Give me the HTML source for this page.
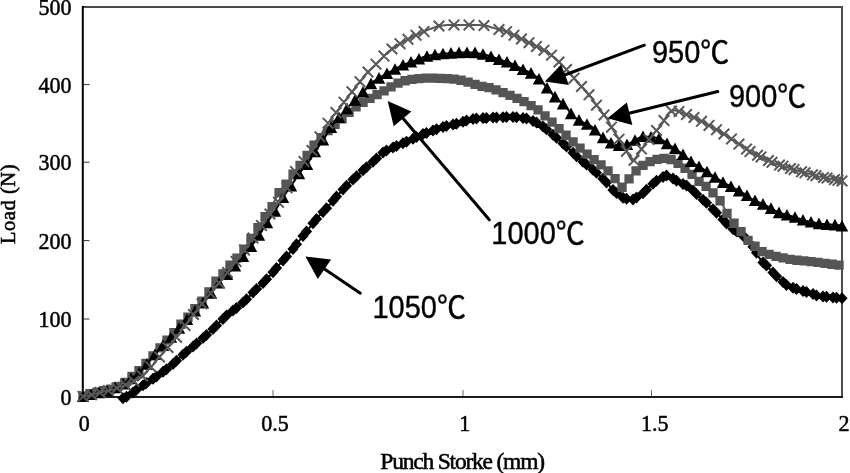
<!DOCTYPE html>
<html><head><meta charset="utf-8"><style>
html,body{margin:0;padding:0;background:#fff;}
body{width:850px;height:473px;overflow:hidden;}
svg{display:block;}
.ax{font-family:"Liberation Serif",serif;font-size:22px;fill:#000;stroke:#000;stroke-width:0.55px;letter-spacing:0px;}
.nm{font-size:23.7px;stroke-width:0.5px;}
.lb{font-family:"Liberation Sans","Noto Sans CJK JP",sans-serif;font-size:31px;fill:#000;stroke:#000;stroke-width:0.4px;}
</style></head><body>
<svg width="850" height="473" viewBox="0 0 850 473">

<rect x="0" y="0" width="850" height="473" fill="#fff"/>

<line x1="82" y1="7" x2="843" y2="7" stroke="#4a4a4a" stroke-width="2"/>
<line x1="842" y1="6" x2="842" y2="397.5" stroke="#4d4d4d" stroke-width="2"/>
<line x1="82.8" y1="6" x2="82.8" y2="397.9" stroke="#000" stroke-width="2"/>
<line x1="82" y1="396.9" x2="843" y2="396.9" stroke="#1a1a1a" stroke-width="2"/>
<line x1="83" y1="84.6" x2="89.5" y2="84.6" stroke="#333" stroke-width="1"/>
<line x1="83" y1="162.2" x2="89.5" y2="162.2" stroke="#333" stroke-width="1"/>
<line x1="83" y1="240.6" x2="89.5" y2="240.6" stroke="#333" stroke-width="1"/>
<line x1="83" y1="319" x2="89.5" y2="319" stroke="#333" stroke-width="1"/>
<line x1="273" y1="390" x2="273" y2="396" stroke="#666" stroke-width="1"/>
<line x1="463" y1="390" x2="463" y2="396" stroke="#666" stroke-width="1"/>
<line x1="651.5" y1="390" x2="651.5" y2="396" stroke="#666" stroke-width="1"/>
<g>
<polyline points="123,398.3 125,397.5 127,396.5 129,395.5 131,394.2 133,392.6 135,391 137,389.4 139,387.9 141,386.5 143,385.2 145,383.9 147,382.7 149,381.4 151,380.1 153,378.8 155,377.5 157,376.1 159,374.7 161,373.2 163,371.8 165,370.4 167,369 169,367.5 171,365.7 173,363.9 175,362 177,360.2 179,358.3 181,356.5 183,354.8 185,353.1 187,351.4 189,349.7 191,348 193,346.4 195,344.7 197,343.1 199,341.4 201,339.7 203,338 205,336.3 207,334.6 209,332.8 211,330.9 213,328.9 215,326.9 217,324.9 219,322.9 221,321 223,319 225,317 227,315.1 229,313.5 231,312 233,310.5 235,309 237,307.5 239,305.9 241,304.1 243,302.4 245,300.7 247,298.8 249,296.7 251,294.6 253,292.4 255,290.4 257,288.5 259,286.6 261,284.8 263,282.9 265,280.8 267,278.7 269,276.6 271,274.5 273,272.3 275,269.9 277,267.5 279,265.1 281,262.7 283,260.4 285,258.1 287,255.9 289,253.6 291,251.3 293,248.9 295,246.3 297,243.7 299,241.1 301,238.5 303,235.9 305,233.3 307,230.8 309,228.3 311,225.8 313,223.3 315,220.8 317,218.3 319,216 321,213.9 323,211.9 325,209.8 327,207.7 329,205.6 331,203.2 333,200.7 335,198.2 337,196 339,193.8 341,191.7 343,189.6 345,187.4 347,185.3 349,183.3 351,181.4 353,179.5 355,177.7 357,175.9 359,174 361,172.2 363,170.3 365,168.6 367,166.9 369,165.2 371,163.5 373,161.8 375,160 377,158.1 379,156.2 381,154.4 383,152.6 385,151.3 387,150.4 389,149.5 391,148.5 393,147.6 395,146.7 397,145.8 399,145 401,144.1 403,143.3 405,142.4 407,141.6 409,140.6 411,139.7 413,138.7 415,137.7 417,136.8 419,135.8 421,134.9 423,134.1 425,133.4 427,132.7 429,131.9 431,131.2 433,130.4 435,129.7 437,129.1 439,128.4 441,127.7 443,127 445,126.4 447,125.8 449,125.4 451,125 453,124.5 455,124.1 457,123.7 459,123.1 461,122.5 463,121.8 465,121.1 467,120.5 469,119.8 471,119.2 473,118.9 475,118.7 477,118.6 479,118.4 481,118.3 483,118.1 485,118 487,117.9 489,117.8 491,117.7 493,117.6 495,117.5 497,117.4 499,117.3 501,117.2 503,117.2 505,117.1 507,117 509,116.9 511,116.9 513,117 515,117.2 517,117.4 519,117.5 521,117.7 523,117.9 525,118.1 527,118.6 529,119.4 531,120.2 533,121 535,121.8 537,122.6 539,123.6 541,125.1 543,126.6 545,128.1 547,129.7 549,131.3 551,133 553,134.7 555,136.4 557,138.1 559,139.9 561,141.6 563,143.4 565,145.2 567,146.9 569,148.7 571,150.7 573,152.7 575,154.7 577,156.7 579,158.6 581,160.2 583,161.8 585,163.3 587,164.8 589,166.4 591,168.1 593,169.8 595,171.4 597,173.2 599,175 601,176.9 603,178.7 605,180.7 607,183 609,185.3 611,187.6 613,189.9 615,191.7 617,193.4 619,195.1 621,196.7 623,197.7 625,198.3 627,198.9 629,199.4 631,199.9 633,199.4 635,198.4 637,197.2 639,196.1 641,194.9 643,193.3 645,191.3 647,189.3 649,187.3 651,185.5 653,183.8 655,182.1 657,180.4 659,179 661,178 663,177 665,176.1 667,175.4 669,176 671,177.2 673,178.5 675,179.8 677,181.1 679,182.3 681,183.3 683,184.1 685,185 687,185.8 689,186.9 691,188.6 693,190.6 695,192.6 697,194.6 699,196.4 701,198 703,199.7 705,201.4 707,203.2 709,205.2 711,207.2 713,209.2 715,211.2 717,213.2 719,215.3 721,217.5 723,219.6 725,221.8 727,223.9 729,226 731,227.5 733,228.9 735,230.2 737,231.6 739,232.9 741,234.3 743,235.7 745,237.7 747,239.9 749,242.1 751,244.3 753,246.7 755,249.9 757,253.6 759,257.2 761,260.3 763,262.4 765,264.2 767,266.1 769,268.1 771,270.2 773,272.4 775,274.6 777,276.8 779,278.7 781,280.4 783,282.1 785,283.8 787,285.2 789,286.1 791,286.9 793,287.7 795,288.5 797,289.3 799,290 801,290.6 803,291.1 805,291.7 807,292.2 809,292.7 811,293.4 813,294.1 815,294.9 817,295.6 819,296.1 821,296.3 823,296.5 825,296.7 827,296.9 829,297.1 831,297.3 833,297.5 835,297.7 837,297.9 839,298.1 841,298.2" fill="none" stroke="#000" stroke-width="2"/>
<path d="M123 392.3L128.6 398.3L123 404.3L117.4 398.3ZM126.5 390.8L132.1 396.8L126.5 402.8L120.9 396.8ZM133 386.6L138.6 392.6L133 398.6L127.4 392.6ZM136.5 383.8L142.1 389.8L136.5 395.8L130.9 389.8ZM143 379.2L148.6 385.2L143 391.2L137.4 385.2ZM146.5 377L152.1 383L146.5 389L140.9 383ZM153 372.8L158.6 378.8L153 384.8L147.4 378.8ZM156.5 370.4L162.1 376.4L156.5 382.4L150.9 376.4ZM163 365.8L168.6 371.8L163 377.8L157.4 371.8ZM166.5 363.3L172.1 369.3L166.5 375.3L160.9 369.3ZM173 357.9L178.6 363.9L173 369.9L167.4 363.9ZM176.5 354.7L182.1 360.7L176.5 366.7L170.9 360.7ZM183 348.8L188.6 354.8L183 360.8L177.4 354.8ZM186.5 345.8L192.1 351.8L186.5 357.8L180.9 351.8ZM193 340.4L198.6 346.4L193 352.4L187.4 346.4ZM196.5 337.5L202.1 343.5L196.5 349.5L190.9 343.5ZM203 332L208.6 338L203 344L197.4 338ZM206.5 329L212.1 335L206.5 341L200.9 335ZM213 322.9L218.6 328.9L213 334.9L207.4 328.9ZM216.5 319.4L222.1 325.4L216.5 331.4L210.9 325.4ZM223 313L228.6 319L223 325L217.4 319ZM226.5 309.6L232.1 315.6L226.5 321.6L220.9 315.6ZM233 304.5L238.6 310.5L233 316.5L227.4 310.5ZM236.5 301.9L242.1 307.9L236.5 313.9L230.9 307.9ZM243 296.4L248.6 302.4L243 308.4L237.4 302.4ZM246.5 293.3L252.1 299.3L246.5 305.3L240.9 299.3ZM253 286.4L258.6 292.4L253 298.4L247.4 292.4ZM256.5 283L262.1 289L256.5 295L250.9 289ZM263 276.9L268.6 282.9L263 288.9L257.4 282.9ZM266.5 273.2L272.1 279.2L266.5 285.2L260.9 279.2ZM273 266.3L278.6 272.3L273 278.3L267.4 272.3ZM276.5 262.1L282.1 268.1L276.5 274.1L270.9 268.1ZM283 254.4L288.6 260.4L283 266.4L277.4 260.4ZM286.5 250.4L292.1 256.4L286.5 262.4L280.9 256.4ZM293 242.9L298.6 248.9L293 254.9L287.4 248.9ZM296.5 238.3L302.1 244.3L296.5 250.3L290.9 244.3ZM303 229.9L308.6 235.9L303 241.9L297.4 235.9ZM306.5 225.4L312.1 231.4L306.5 237.4L300.9 231.4ZM313 217.3L318.6 223.3L313 229.3L307.4 223.3ZM316.5 212.9L322.1 218.9L316.5 224.9L310.9 218.9ZM323 205.9L328.6 211.9L323 217.9L317.4 211.9ZM326.5 202.3L332.1 208.3L326.5 214.3L320.9 208.3ZM333 194.7L338.6 200.7L333 206.7L327.4 200.7ZM336.5 190.5L342.1 196.5L336.5 202.5L330.9 196.5ZM343 183.6L348.6 189.6L343 195.6L337.4 189.6ZM346.5 179.8L352.1 185.8L346.5 191.8L340.9 185.8ZM353 173.5L358.6 179.5L353 185.5L347.4 179.5ZM356.5 170.3L362.1 176.3L356.5 182.3L350.9 176.3ZM363 164.3L368.6 170.3L363 176.3L357.4 170.3ZM366.5 161.3L372.1 167.3L366.5 173.3L360.9 167.3ZM373 155.8L378.6 161.8L373 167.8L367.4 161.8ZM376.5 152.6L382.1 158.6L376.5 164.6L370.9 158.6ZM383 146.6L388.6 152.6L383 158.6L377.4 152.6ZM386.5 144.6L392.1 150.6L386.5 156.6L380.9 150.6ZM393 141.6L398.6 147.6L393 153.6L387.4 147.6ZM396.5 140L402.1 146L396.5 152L390.9 146ZM403 137.3L408.6 143.3L403 149.3L397.4 143.3ZM406.5 135.8L412.1 141.8L406.5 147.8L400.9 141.8ZM413 132.7L418.6 138.7L413 144.7L407.4 138.7ZM416.5 131L422.1 137L416.5 143L410.9 137ZM423 128.1L428.6 134.1L423 140.1L417.4 134.1ZM426.5 126.9L432.1 132.9L426.5 138.9L420.9 132.9ZM433 124.4L438.6 130.4L433 136.4L427.4 130.4ZM436.5 123.2L442.1 129.2L436.5 135.2L430.9 129.2ZM443 121L448.6 127L443 133L437.4 127ZM446.5 119.9L452.1 125.9L446.5 131.9L440.9 125.9ZM453 118.5L458.6 124.5L453 130.5L447.4 124.5ZM456.5 117.8L462.1 123.8L456.5 129.8L450.9 123.8ZM463 115.8L468.6 121.8L463 127.8L457.4 121.8ZM466.5 114.6L472.1 120.6L466.5 126.6L460.9 120.6ZM473 112.9L478.6 118.9L473 124.9L467.4 118.9ZM476.5 112.6L482.1 118.6L476.5 124.6L470.9 118.6ZM483 112.1L488.6 118.1L483 124.1L477.4 118.1ZM486.5 111.9L492.1 117.9L486.5 123.9L480.9 117.9ZM493 111.6L498.6 117.6L493 123.6L487.4 117.6ZM496.5 111.5L502.1 117.5L496.5 123.5L490.9 117.5ZM503 111.2L508.6 117.2L503 123.2L497.4 117.2ZM506.5 111L512.1 117L506.5 123L500.9 117ZM513 111L518.6 117L513 123L507.4 117ZM516.5 111.3L522.1 117.3L516.5 123.3L510.9 117.3ZM523 111.9L528.6 117.9L523 123.9L517.4 117.9ZM526.5 112.5L532.1 118.5L526.5 124.5L520.9 118.5ZM533 115L538.6 121L533 127L527.4 121ZM536.5 116.4L542.1 122.4L536.5 128.4L530.9 122.4ZM543 120.6L548.6 126.6L543 132.6L537.4 126.6ZM546.5 123.3L552.1 129.3L546.5 135.3L540.9 129.3ZM553 128.7L558.6 134.7L553 140.7L547.4 134.7ZM556.5 131.7L562.1 137.7L556.5 143.7L550.9 137.7ZM563 137.4L568.6 143.4L563 149.4L557.4 143.4ZM566.5 140.5L572.1 146.5L566.5 152.5L560.9 146.5ZM573 146.7L578.6 152.7L573 158.7L567.4 152.7ZM576.5 150.2L582.1 156.2L576.5 162.2L570.9 156.2ZM583 155.8L588.6 161.8L583 167.8L577.4 161.8ZM586.5 158.5L592.1 164.5L586.5 170.5L580.9 164.5ZM593 163.8L598.6 169.8L593 175.8L587.4 169.8ZM596.5 166.7L602.1 172.7L596.5 178.7L590.9 172.7ZM603 172.7L608.6 178.7L603 184.7L597.4 178.7ZM606.5 176.4L612.1 182.4L606.5 188.4L600.9 182.4ZM613 183.9L618.6 189.9L613 195.9L607.4 189.9ZM616.5 187L622.1 193L616.5 199L610.9 193ZM623 191.7L628.6 197.7L623 203.7L617.4 197.7ZM626.5 192.7L632.1 198.7L626.5 204.7L620.9 198.7ZM633 193.4L638.6 199.4L633 205.4L627.4 199.4ZM636.5 191.5L642.1 197.5L636.5 203.5L630.9 197.5ZM643 187.3L648.6 193.3L643 199.3L637.4 193.3ZM646.5 183.8L652.1 189.8L646.5 195.8L640.9 189.8ZM653 177.8L658.6 183.8L653 189.8L647.4 183.8ZM656.5 174.8L662.1 180.8L656.5 186.8L650.9 180.8ZM663 171L668.6 177L663 183L657.4 177ZM666.5 169.5L672.1 175.5L666.5 181.5L660.9 175.5ZM673 172.5L678.6 178.5L673 184.5L667.4 178.5ZM676.5 174.8L682.1 180.8L676.5 186.8L670.9 180.8ZM683 178.1L688.6 184.1L683 190.1L677.4 184.1ZM686.5 179.6L692.1 185.6L686.5 191.6L680.9 185.6ZM693 184.6L698.6 190.6L693 196.6L687.4 190.6ZM696.5 188.1L702.1 194.1L696.5 200.1L690.9 194.1ZM703 193.7L708.6 199.7L703 205.7L697.4 199.7ZM706.5 196.7L712.1 202.7L706.5 208.7L700.9 202.7ZM713 203.2L718.6 209.2L713 215.2L707.4 209.2ZM716.5 206.7L722.1 212.7L716.5 218.7L710.9 212.7ZM723 213.6L728.6 219.6L723 225.6L717.4 219.6ZM726.5 217.4L732.1 223.4L726.5 229.4L720.9 223.4ZM733 222.9L738.6 228.9L733 234.9L727.4 228.9ZM736.5 225.3L742.1 231.3L736.5 237.3L730.9 231.3ZM743 229.7L748.6 235.7L743 241.7L737.4 235.7ZM746.5 233.3L752.1 239.3L746.5 245.3L740.9 239.3ZM753 240.7L758.6 246.7L753 252.7L747.4 246.7ZM756.5 246.7L762.1 252.7L756.5 258.7L750.9 252.7ZM763 256.4L768.6 262.4L763 268.4L757.4 262.4ZM766.5 259.6L772.1 265.6L766.5 271.6L760.9 265.6ZM773 266.4L778.6 272.4L773 278.4L767.4 272.4ZM776.5 270.3L782.1 276.3L776.5 282.3L770.9 276.3ZM783 276.1L788.6 282.1L783 288.1L777.4 282.1ZM786.5 278.9L792.1 284.9L786.5 290.9L780.9 284.9ZM793 281.7L798.6 287.7L793 293.7L787.4 287.7ZM796.5 283.1L802.1 289.1L796.5 295.1L790.9 289.1ZM803 285.1L808.6 291.1L803 297.1L797.4 291.1ZM806.5 286.1L812.1 292.1L806.5 298.1L800.9 292.1ZM813 288.1L818.6 294.1L813 300.1L807.4 294.1ZM816.5 289.4L822.1 295.4L816.5 301.4L810.9 295.4ZM823 290.5L828.6 296.5L823 302.5L817.4 296.5ZM826.5 290.8L832.1 296.8L826.5 302.8L820.9 296.8ZM833 291.5L838.6 297.5L833 303.5L827.4 297.5ZM836.5 291.8L842.1 297.8L836.5 303.8L830.9 297.8ZM842 292.3L847.6 298.3L842 304.3L836.4 298.3Z" fill="#000"/>
<polyline points="83,395.9 85,395.3 87,394.7 89,394 91,393.6 93,393.1 95,392.7 97,392.3 99,391.8 101,391.4 103,391 105,390.6 107,390.1 109,389.7 111,389.1 113,388.4 115,387.6 117,386.9 119,386.1 121,385.3 123,384 125,382.4 127,380.7 129,379 131,377.3 133,375.7 135,374 137,372.3 139,370.6 141,368.6 143,366.5 145,364.4 147,362.3 149,360.2 151,358.1 153,355.9 155,353.6 157,351.3 159,349 161,346.7 163,344.5 165,342.3 167,340.1 169,338 171,335.8 173,333.7 175,331.5 177,329.1 179,326.7 181,324.3 183,322.2 185,320.4 187,318.4 189,315.9 191,313.2 193,310.7 195,308.5 197,306.5 199,304.5 201,302.3 203,300.2 205,297.9 207,295.1 209,291.9 211,288.6 213,285.4 215,282.4 217,280.2 219,278.2 221,276.2 223,273.9 225,271.2 227,268.4 229,266.1 231,264.1 233,262 235,260 237,258 239,256.1 241,253.7 243,250.7 245,247.6 247,244.6 249,241.5 251,238.4 253,235.3 255,232.3 257,229.2 259,226.1 261,222.9 263,219.7 265,216.6 267,213.7 269,211.4 271,208.6 273,204.4 275,199.8 277,195.7 279,192.7 281,190.1 283,187.8 285,185.4 287,183.1 289,180.6 291,177.6 293,174.3 295,171.5 297,169.1 299,166.7 301,164.2 303,161.3 305,158.3 307,155.4 309,152.4 311,149.4 313,146.5 315,144 317,141.9 319,139.9 321,137.8 323,135.7 325,133.7 327,131.6 329,129.6 331,127.6 333,126 335,124.4 337,122.9 339,121.3 341,119.8 343,118.1 345,116.2 347,114.3 349,112.4 351,110.6 353,109.1 355,107.7 357,106.3 359,104.9 361,103.6 363,102.5 365,101.3 367,100.2 369,99 371,97.9 373,96.8 375,95.7 377,94.7 379,93.6 381,92.5 383,91.4 385,90.3 387,89.1 389,88 391,86.9 393,85.7 395,84.7 397,83.6 399,82.6 401,81.6 403,81.1 405,80.7 407,80.3 409,79.9 411,79.6 413,79.4 415,79.1 417,78.9 419,78.6 421,78.5 423,78.4 425,78.2 427,78.2 429,78.1 431,78 433,78.1 435,78.2 437,78.2 439,78.3 441,78.4 443,78.4 445,78.5 447,78.7 449,78.8 451,79 453,79.1 455,79.3 457,79.4 459,79.7 461,80.2 463,80.7 465,81.3 467,81.8 469,82.3 471,82.9 473,83.6 475,84.3 477,85 479,85.6 481,86.2 483,86.6 485,86.9 487,87.3 489,87.7 491,88.1 493,88.8 495,89.6 497,90.4 499,91.1 501,91.9 503,92.7 505,93.4 507,94.2 509,95 511,95.9 513,96.7 515,97.5 517,98.4 519,99.2 521,100.1 523,101.1 525,102.2 527,103.3 529,104.4 531,105.5 533,106.6 535,107.7 537,109.1 539,110.8 541,112.5 543,114.2 545,116 547,117.7 549,119.5 551,121.3 553,123.1 555,124.9 557,126.7 559,128.5 561,130.4 563,132.4 565,134.3 567,136.3 569,138.2 571,140 573,141.8 575,143.7 577,145.5 579,147.3 581,149 583,150.8 585,152.5 587,154.2 589,155.8 591,157.3 593,158.8 595,160.3 597,161.8 599,163.3 601,164.9 603,166.7 605,168.4 607,170.1 609,171.9 611,174.1 613,176.3 615,178.6 617,181.1 619,183.8 621,186.4 623,187.2 625,184.7 627,181.8 629,179 631,176.3 633,173.7 635,171.8 637,170.1 639,168.5 641,166.8 643,165.5 645,164.3 647,163.2 649,162.1 651,161 653,160.3 655,159.9 657,159.5 659,159 661,158.6 663,158.4 665,158.2 667,158.1 669,158.6 671,159.6 673,160.7 675,161.8 677,162.9 679,164 681,165.4 683,166.8 685,168.3 687,169.7 689,171.3 691,173.3 693,175.4 695,177.6 697,179.7 699,181.4 701,182.8 703,184.3 705,185.7 707,187.2 709,189 711,191 713,193 715,195 717,197.1 719,199.5 721,202.2 723,205.6 725,209.4 727,213.3 729,217 731,219.7 733,222.1 735,224.5 737,226.8 739,229.2 741,231.6 743,234.1 745,236.7 747,239.2 749,241.5 751,243.2 753,244.7 755,246.3 757,247.8 759,249.3 761,250.8 763,252.2 765,253.1 767,253.7 769,254.3 771,254.9 773,255.5 775,256.1 777,256.7 779,257.2 781,257.6 783,258 785,258.4 787,258.8 789,259.2 791,259.5 793,259.8 795,260 797,260.2 799,260.4 801,260.6 803,260.8 805,261 807,261.2 809,261.5 811,261.7 813,261.9 815,262.1 817,262.3 819,262.6 821,262.8 823,263.1 825,263.3 827,263.6 829,263.8 831,264.1 833,264.3 835,264.6 837,264.9 839,265.1 841,265.4" fill="none" stroke="#555" stroke-width="2"/>
<path d="M78.3 391.2h9.3v9.3h-9.3ZM85.3 389.1h9.3v9.3h-9.3ZM92.3 387.6h9.3v9.3h-9.3ZM99.3 386.1h9.3v9.3h-9.3ZM106.3 384.5h9.3v9.3h-9.3ZM113.3 381.8h9.3v9.3h-9.3ZM120.3 377.7h9.3v9.3h-9.3ZM127.3 371.8h9.3v9.3h-9.3ZM134.3 365.9h9.3v9.3h-9.3ZM141.3 358.7h9.3v9.3h-9.3ZM148.3 351.2h9.3v9.3h-9.3ZM155.3 343.2h9.3v9.3h-9.3ZM162.3 335.5h9.3v9.3h-9.3ZM169.3 327.9h9.3v9.3h-9.3ZM176.3 319.6h9.3v9.3h-9.3ZM183.3 312.6h9.3v9.3h-9.3ZM190.3 303.9h9.3v9.3h-9.3ZM197.3 296.6h9.3v9.3h-9.3ZM204.3 287.2h9.3v9.3h-9.3ZM211.3 276.6h9.3v9.3h-9.3ZM218.3 269.2h9.3v9.3h-9.3ZM225.3 260.4h9.3v9.3h-9.3ZM232.3 253.4h9.3v9.3h-9.3ZM239.3 244.5h9.3v9.3h-9.3ZM246.3 233.8h9.3v9.3h-9.3ZM253.3 223h9.3v9.3h-9.3ZM260.4 211.9h9.3v9.3h-9.3ZM267.4 202h9.3v9.3h-9.3ZM274.4 188.1h9.3v9.3h-9.3ZM281.4 179.6h9.3v9.3h-9.3ZM288.4 169.6h9.3v9.3h-9.3ZM295.4 160.8h9.3v9.3h-9.3ZM302.4 150.7h9.3v9.3h-9.3ZM309.4 140.5h9.3v9.3h-9.3ZM316.4 133.1h9.3v9.3h-9.3ZM323.4 125.9h9.3v9.3h-9.3ZM330.4 119.8h9.3v9.3h-9.3ZM337.4 114.3h9.3v9.3h-9.3ZM344.4 107.8h9.3v9.3h-9.3ZM351.4 102.3h9.3v9.3h-9.3ZM358.4 97.8h9.3v9.3h-9.3ZM365.4 93.8h9.3v9.3h-9.3ZM372.4 90h9.3v9.3h-9.3ZM379.4 86.2h9.3v9.3h-9.3ZM386.4 82.2h9.3v9.3h-9.3ZM393.4 78.4h9.3v9.3h-9.3ZM400.4 76.1h9.3v9.3h-9.3ZM407.4 74.8h9.3v9.3h-9.3ZM414.4 74h9.3v9.3h-9.3ZM421.4 73.5h9.3v9.3h-9.3ZM428.4 73.4h9.3v9.3h-9.3ZM435.4 73.7h9.3v9.3h-9.3ZM442.4 74h9.3v9.3h-9.3ZM449.4 74.5h9.3v9.3h-9.3ZM456.4 75.6h9.3v9.3h-9.3ZM463.4 77.4h9.3v9.3h-9.3ZM470.4 79.7h9.3v9.3h-9.3ZM477.4 81.7h9.3v9.3h-9.3ZM484.4 83h9.3v9.3h-9.3ZM491.4 85.3h9.3v9.3h-9.3ZM498.4 88h9.3v9.3h-9.3ZM505.4 90.8h9.3v9.3h-9.3ZM512.4 93.7h9.3v9.3h-9.3ZM519.4 97h9.3v9.3h-9.3ZM526.4 100.9h9.3v9.3h-9.3ZM533.4 105.2h9.3v9.3h-9.3ZM540.4 111.3h9.3v9.3h-9.3ZM547.4 117.5h9.3v9.3h-9.3ZM554.4 123.9h9.3v9.3h-9.3ZM561.4 130.6h9.3v9.3h-9.3ZM568.4 137.2h9.3v9.3h-9.3ZM575.4 143.5h9.3v9.3h-9.3ZM582.4 149.5h9.3v9.3h-9.3ZM589.4 154.9h9.3v9.3h-9.3ZM596.4 160.3h9.3v9.3h-9.3ZM603.4 166.3h9.3v9.3h-9.3ZM610.4 174h9.3v9.3h-9.3ZM617.4 182.6h9.3v9.3h-9.3ZM624.4 174.3h9.3v9.3h-9.3ZM631.4 166.3h9.3v9.3h-9.3ZM638.4 160.8h9.3v9.3h-9.3ZM645.4 156.9h9.3v9.3h-9.3ZM652.4 154.8h9.3v9.3h-9.3ZM659.4 153.7h9.3v9.3h-9.3ZM666.4 155h9.3v9.3h-9.3ZM673.4 158.8h9.3v9.3h-9.3ZM680.4 163.6h9.3v9.3h-9.3ZM687.4 169.7h9.3v9.3h-9.3ZM694.4 176.7h9.3v9.3h-9.3ZM701.4 181.8h9.3v9.3h-9.3ZM708.4 188.3h9.3v9.3h-9.3ZM715.4 196.1h9.3v9.3h-9.3ZM722.4 208.7h9.3v9.3h-9.3ZM729.4 218.6h9.3v9.3h-9.3ZM736.4 227h9.3v9.3h-9.3ZM743.4 235.8h9.3v9.3h-9.3ZM750.4 241.6h9.3v9.3h-9.3ZM757.4 246.9h9.3v9.3h-9.3ZM764.4 249.7h9.3v9.3h-9.3ZM771.4 251.8h9.3v9.3h-9.3ZM778.4 253.3h9.3v9.3h-9.3ZM785.4 254.7h9.3v9.3h-9.3ZM792.4 255.6h9.3v9.3h-9.3ZM799.4 256.3h9.3v9.3h-9.3ZM806.4 257h9.3v9.3h-9.3ZM813.4 257.8h9.3v9.3h-9.3ZM820.4 258.7h9.3v9.3h-9.3ZM827.4 259.6h9.3v9.3h-9.3ZM834.4 260.5h9.3v9.3h-9.3Z" fill="#555"/>
<polyline points="83,396.4 85,396 87,395.5 89,395 91,394.5 93,394 95,393.5 97,393 99,392.6 101,392.1 103,391.6 105,391.2 107,390.7 109,390.2 111,389.5 113,388.6 115,387.7 117,386.7 119,385.8 121,384.9 123,383.9 125,382.9 127,381.5 129,380.1 131,378.6 133,377.1 135,375.7 137,374.2 139,372.7 141,370.8 143,368.6 145,366.4 147,364.1 149,361.7 151,359.3 153,356.8 155,354.2 157,351.8 159,349.4 161,347.4 163,345.3 165,343.3 167,341.3 169,339.2 171,337.2 173,335 175,332.7 177,330.4 179,328.2 181,325.9 183,323.7 185,321.5 187,319.4 189,317.2 191,315.1 193,313 195,311 197,309 199,307 201,305 203,303 205,300.7 207,298.2 209,295.6 211,293.1 213,290.5 215,288 217,285.4 219,282.9 221,280.7 223,278.6 225,276.5 227,274.5 229,272.4 231,270.3 233,268.2 235,266 237,263.7 239,261.2 241,258.8 243,256.3 245,253.8 247,251.3 249,248.8 251,246.3 253,243.8 255,241.2 257,238.4 259,235.2 261,232.1 263,228.9 265,225.8 267,222.7 269,219.8 271,217 273,214.1 275,211.1 277,207.8 279,204.3 281,200.8 283,197.3 285,194.1 287,191.3 289,188.5 291,185.8 293,182.9 295,179.9 297,176.7 299,173.6 301,171 303,168.8 305,166.6 307,164.3 309,161.2 311,158.1 313,154.9 315,151.7 317,148.8 319,145.9 321,142.9 323,140 325,137 327,133.9 329,130.6 331,127.3 333,124.4 335,122 337,119.7 339,117.4 341,115.1 343,112.9 345,110.7 347,108.6 349,106.4 351,104.3 353,102.2 355,100.1 357,98.1 359,96 361,94 363,91.9 365,89.8 367,87.7 369,85.6 371,83.6 373,81.9 375,80.6 377,79.3 379,78.1 381,76.8 383,75.6 385,74.5 387,73.4 389,72.4 391,71.3 393,70.2 395,69.2 397,68.1 399,67 401,66 403,64.9 405,64.1 407,63.4 409,62.7 411,62 413,61.2 415,60.5 417,59.7 419,58.9 421,58.1 423,57.3 425,56.7 427,56.2 429,55.8 431,55.3 433,54.9 435,54.7 437,54.4 439,54.2 441,54 443,53.7 445,53.5 447,53.4 449,53.2 451,53.1 453,53 455,52.8 457,52.7 459,52.6 461,52.5 463,52.5 465,52.5 467,52.5 469,52.5 471,52.5 473,52.5 475,52.6 477,52.9 479,53.4 481,53.8 483,54.2 485,54.6 487,55.1 489,55.8 491,56.5 493,57.2 495,57.9 497,58.7 499,59.4 501,60 503,60.7 505,61.3 507,61.9 509,62.6 511,63.5 513,64.5 515,65.5 517,66.4 519,67.4 521,68.4 523,69.4 525,70.3 527,71.2 529,72.2 531,73.1 533,74.4 535,75.8 537,77.4 539,78.9 541,80.5 543,82.6 545,85.3 547,88 549,90.5 551,92.6 553,94.7 555,96.8 557,98.8 559,100.6 561,102.2 563,103.8 565,105.6 567,108.2 569,110.9 571,113.6 573,116.2 575,117.8 577,119 579,120.1 581,121.2 583,122.3 585,123.3 587,124.2 589,125.1 591,126.1 593,127.7 595,129.9 597,132.1 599,134.3 601,136.2 603,137.6 605,138.8 607,140.1 609,141.5 611,142.9 613,144.2 615,144.8 617,145.1 619,145.5 621,145.7 623,145.4 625,145 627,144.5 629,143.7 631,142.5 633,141.3 635,140.2 637,139.1 639,138 641,136.9 643,136.5 645,136.6 647,136.7 649,136.8 651,136.9 653,137.1 655,137.4 657,137.9 659,138.6 661,139.3 663,140.4 665,141.9 667,143.6 669,145.2 671,146.1 673,147.2 675,148.6 677,150.1 679,151.6 681,152.9 683,154.4 685,156.1 687,157.9 689,159.6 691,161.4 693,163.1 695,164.4 697,165.5 699,166.6 701,167.8 703,168.9 705,170.3 707,171.7 709,173.1 711,174.5 713,175.9 715,177.2 717,178.5 719,179.7 721,181 723,182.3 725,183.4 727,184.5 729,185.5 731,186.5 733,187.6 735,188.6 737,189.7 739,190.8 741,192 743,193.1 745,194.2 747,195.5 749,197.2 751,198.7 753,199.7 755,200.5 757,201.4 759,202.3 761,203.2 763,204.1 765,205 767,206.1 769,207.2 771,208.3 773,209.4 775,210.6 777,211.7 779,212.6 781,213.2 783,213.8 785,214.3 787,214.9 789,215.4 791,216 793,216.6 795,217.2 797,217.9 799,218.6 801,219.3 803,220 805,220.6 807,221.1 809,221.5 811,221.9 813,222.3 815,222.7 817,223.2 819,223.6 821,224 823,224.1 825,224.2 827,224.4 829,224.5 831,224.6 833,224.7 835,224.8 837,224.9 839,225.2 841,225.7" fill="none" stroke="#000" stroke-width="2"/>
<path d="M83 390.4L89.2 402H76.8ZM91 388.5L97.2 400.1H84.8ZM99 386.6L105.2 398.2H92.8ZM107 384.7L113.2 396.3H100.8ZM115 381.7L121.2 393.3H108.8ZM123 377.9L129.2 389.5H116.8ZM131 372.6L137.2 384.2H124.8ZM139 366.7L145.2 378.3H132.8ZM147 358.1L153.2 369.7H140.8ZM155 348.2L161.2 359.9H148.8ZM163 339.3L169.2 350.9H156.8ZM171 331.2L177.2 342.8H164.8ZM179 322.2L185.2 333.8H172.8ZM187 313.4L193.2 325H180.8ZM195 305L201.2 316.6H188.8ZM203 297L209.2 308.6H196.8ZM211 287.1L217.2 298.7H204.8ZM219 276.9L225.2 288.5H212.8ZM227 268.5L233.2 280.1H220.8ZM235 260L241.2 271.6H228.8ZM243 250.3L249.2 261.9H236.8ZM251 240.3L257.2 251.9H244.8ZM259 229.2L265.2 240.8H252.8ZM267 216.7L273.2 228.3H260.8ZM275 205.1L281.2 216.7H268.8ZM283 191.3L289.2 202.9H276.8ZM291 179.8L297.2 191.4H284.8ZM299 167.6L305.2 179.2H292.8ZM307 158.3L313.2 169.9H300.8ZM315 145.7L321.2 157.3H308.8ZM323 134L329.2 145.6H316.8ZM331 121.3L337.2 132.9H324.8ZM339 111.4L345.2 123H332.8ZM347 102.6L353.2 114.2H340.8ZM355 94.1L361.2 105.7H348.8ZM363 85.9L369.2 97.5H356.8ZM371 77.6L377.2 89.2H364.8ZM379 72.1L385.2 83.7H372.8ZM387 67.4L393.2 79H380.8ZM395 63.2L401.2 74.8H388.8ZM403 58.9L409.2 70.5H396.8ZM411 56L417.2 67.6H404.8ZM419 52.9L425.2 64.5H412.8ZM427 50.2L433.2 61.8H420.8ZM435 48.7L441.2 60.3H428.8ZM443 47.7L449.2 59.3H436.8ZM451 47.1L457.2 58.7H444.8ZM459 46.6L465.2 58.2H452.8ZM467 46.5L473.2 58.1H460.8ZM475 46.6L481.2 58.2H468.8ZM483 48.2L489.2 59.8H476.8ZM491 50.5L497.2 62.1H484.8ZM499 53.4L505.2 65H492.8ZM507 55.9L513.2 67.5H500.8ZM515 59.5L521.2 71.1H508.8ZM523 63.4L529.2 75H516.8ZM531 67.1L537.2 78.7H524.8ZM539 72.9L545.2 84.5H532.8ZM547 82L553.2 93.6H540.8ZM555 90.8L561.2 102.4H548.8ZM563 97.8L569.2 109.4H556.8ZM571 107.6L577.2 119.2H564.8ZM579 114.1L585.2 125.7H572.8ZM587 118.2L593.2 129.8H580.8ZM595 123.9L601.2 135.5H588.8ZM603 131.6L609.2 143.2H596.8ZM611 136.9L617.2 148.5H604.8ZM619 139.5L625.2 151.1H612.8ZM627 138.5L633.2 150.1H620.8ZM635 134.2L641.2 145.8H628.8ZM643 130.5L649.2 142.1H636.8ZM651 130.9L657.2 142.5H644.8ZM659 132.6L665.2 144.2H652.8ZM667 137.6L673.2 149.2H660.8ZM675 142.6L681.2 154.2H668.8ZM683 148.4L689.2 160H676.8ZM691 155.4L697.2 167H684.8ZM699 160.6L705.2 172.2H692.8ZM707 165.7L713.2 177.3H700.8ZM715 171.2L721.2 182.8H708.8ZM723 176.3L729.2 187.9H716.8ZM731 180.5L737.2 192.1H724.8ZM739 184.8L745.2 196.4H732.8ZM747 189.5L753.2 201.1H740.8ZM755 194.5L761.2 206.1H748.8ZM763 198.1L769.2 209.7H756.8ZM771 202.3L777.2 213.9H764.8ZM779 206.6L785.2 218.2H772.8ZM787 208.9L793.2 220.5H780.8ZM795 211.2L801.2 222.8H788.8ZM803 214L809.2 225.6H796.8ZM811 215.9L817.2 227.5H804.8ZM819 217.6L825.2 229.2H812.8ZM827 218.4L833.2 230H820.8ZM835 218.8L841.2 230.4H828.8ZM842 219.9L848.2 231.5H835.8Z" fill="#000"/>
<polyline points="83,396.4 85,396.1 87,395.7 89,395.3 91,394.8 93,394.4 95,393.9 97,393.3 99,392.8 101,392.2 103,391.7 105,391.3 107,390.9 109,390.5 111,390.1 113,389.6 115,388.9 117,388.1 119,387.3 121,386.5 123,385.7 125,385 127,384.3 129,383.5 131,382.8 133,381.8 135,380.6 137,379.4 139,378.2 141,376.9 143,375.6 145,373.7 147,371.4 149,369.1 151,366.9 153,364.6 155,362.2 157,359.9 159,357.5 161,355.2 163,352.9 165,350.7 167,348.5 169,346.4 171,344.2 173,341.9 175,339.2 177,336.5 179,333.7 181,331 183,328.2 185,325.4 187,322.8 189,320.2 191,317.7 193,315.2 195,312.6 197,310.1 199,307.6 201,305.1 203,302.5 205,300 207,297.5 209,295.1 211,292.7 213,290.3 215,287.9 217,285.5 219,283 221,280.6 223,278.2 225,275.8 227,273.3 229,270.7 231,268 233,265.4 235,262.7 237,260.1 239,257.4 241,254.8 243,252.1 245,249.5 247,246.7 249,243.8 251,240.9 253,238 255,235.1 257,232.2 259,229.2 261,226.3 263,223.5 265,220.8 267,218.1 269,215.3 271,212.6 273,209.9 275,207.2 277,204.4 279,201.5 281,198.2 283,194.7 285,191.2 287,187.7 289,184.1 291,180.2 293,176.4 295,172.5 297,169.3 299,167 301,164.8 303,162.6 305,160.3 307,158.1 309,155.4 311,152.2 313,149 315,145.7 317,142.3 319,138.6 321,134.9 323,131.2 325,127.5 327,124.5 329,121.9 331,119.2 333,116.5 335,113.9 337,111.3 339,108.7 341,106.1 343,103.5 345,100.9 347,98.3 349,95.7 351,93.1 353,90.5 355,87.9 357,85.4 359,82.9 361,80.4 363,78 365,75.5 367,73.1 369,71.1 371,69.1 373,67.2 375,65.2 377,63.3 379,61.3 381,59.2 383,57.1 385,55 387,53 389,51.2 391,49.7 393,48.3 395,46.9 397,45.5 399,44.3 401,43.2 403,42.1 405,41 407,39.9 409,38.8 411,37.7 413,36.6 415,35.6 417,34.7 419,33.8 421,32.9 423,32 425,31.1 427,30.2 429,29.4 431,28.7 433,28 435,27.3 437,26.5 439,26 441,25.7 443,25.5 445,25.3 447,25.1 449,24.9 451,24.9 453,24.9 455,24.9 457,24.9 459,24.9 461,24.9 463,24.9 465,24.9 467,24.9 469,24.9 471,24.9 473,24.9 475,25 477,25 479,25.1 481,25.3 483,25.5 485,25.6 487,26 489,26.5 491,27.2 493,27.8 495,28.4 497,29 499,29.5 501,30 503,30.5 505,31.1 507,31.9 509,32.9 511,33.8 513,34.8 515,35.7 517,36.7 519,37.7 521,38.7 523,39.6 525,40.7 527,41.7 529,42.7 531,43.7 533,44.7 535,45.7 537,46.7 539,47.7 541,48.7 543,49.7 545,50.7 547,51.7 549,53.2 551,54.8 553,56.5 555,58.2 557,60 559,62 561,64 563,66 565,68.1 567,70.2 569,72.3 571,74.5 573,76.9 575,79.4 577,81.8 579,84 581,86 583,88 585,90.1 587,92.5 589,94.8 591,97.3 593,100 595,103 597,105.9 599,108.6 601,111.1 603,113.6 605,116.3 607,119 609,122.2 611,126.3 613,129.8 615,132.9 617,136.1 619,139.2 621,142.2 623,145.2 625,148.5 627,152.1 629,155.8 631,159.5 633,161.2 635,158.9 637,155.9 639,152.8 641,149.8 643,147.1 645,144.5 647,142 649,139.4 651,136.9 653,134.5 655,132.2 657,130 659,127.7 661,125.3 663,122.3 665,118.9 667,115.4 669,112.7 671,111.3 673,110.5 675,110.5 677,110.7 679,111.4 681,112.3 683,113.1 685,114 687,114.8 689,115.6 691,116.3 693,117.1 695,118 697,119 699,120 701,121 703,122.1 705,123.2 707,124.3 709,125.4 711,126.5 713,127.7 715,128.9 717,130 719,131.2 721,132.3 723,133.5 725,134.6 727,135.7 729,137 731,138.5 733,139.9 735,141.4 737,142.8 739,144.1 741,145.4 743,146.6 745,148 747,149.4 749,150.9 751,152.2 753,153.3 755,154.2 757,155.1 759,156 761,156.9 763,157.9 765,158.8 767,159.8 769,160.8 771,161.8 773,162.8 775,163.6 777,164.3 779,164.9 781,165.5 783,166.2 785,166.8 787,167.4 789,168 791,168.7 793,169.3 795,169.9 797,170.5 799,171.1 801,171.6 803,172.2 805,172.8 807,173.3 809,173.9 811,174.4 813,174.9 815,175.4 817,175.9 819,176.4 821,176.8 823,177.3 825,177.7 827,178.1 829,178.5 831,178.9 833,179.3 835,179.7 837,180.1 839,180.5 841,180.8" fill="none" stroke="#585858" stroke-width="2"/>
<path d="M77.7 391.1L88.3 401.7M77.7 401.7L88.3 391.1M86.2 389.4L96.8 400M86.2 400L96.8 389.4M94.7 387.2L105.3 397.8M94.7 397.8L105.3 387.2M103.2 385.3L113.8 395.9M103.2 395.9L113.8 385.3M111.7 382.8L122.3 393.4M111.7 393.4L122.3 382.8M120.2 379.5L130.8 390.1M120.2 390.1L130.8 379.5M128.7 375.9L139.3 386.5M128.7 386.5L139.3 375.9M137.2 370.7L147.8 381.3M137.2 381.3L147.8 370.7M145.7 361.6L156.3 372.2M145.7 372.2L156.3 361.6M154.2 351.6L164.8 362.2M154.2 362.2L164.8 351.6M162.7 342.2L173.3 352.8M162.7 352.8L173.3 342.2M171.2 331.9L181.8 342.5M171.2 342.5L181.8 331.9M179.7 320.1L190.3 330.7M179.7 330.7L190.3 320.1M188.2 309.2L198.8 319.8M188.2 319.8L198.8 309.2M196.7 298.5L207.3 309.1M196.7 309.1L207.3 298.5M205.2 288L215.8 298.6M205.2 298.6L215.8 288M213.7 277.7L224.3 288.3M213.7 288.3L224.3 277.7M222.2 267.3L232.8 277.9M222.2 277.9L232.8 267.3M230.7 256.1L241.3 266.7M230.7 266.7L241.3 256.1M239.2 244.8L249.8 255.4M239.2 255.4L249.8 244.8M247.7 232.7L258.3 243.3M247.7 243.3L258.3 232.7M256.2 220.3L266.8 230.9M256.2 230.9L266.8 220.3M264.7 208.7L275.3 219.3M264.7 219.3L275.3 208.7M273.2 197L283.8 207.6M273.2 207.6L283.8 197M281.7 182.4L292.3 193M281.7 193L292.3 182.4M290.2 166.3L300.8 176.9M290.2 176.9L300.8 166.3M298.7 156.1L309.3 166.7M298.7 166.7L309.3 156.1M306.7 145.3L317.3 155.9M306.7 155.9L317.3 145.3M314.7 131.5L325.3 142.1M314.7 142.1L325.3 131.5M322.7 117.9L333.3 128.5M322.7 128.5L333.3 117.9M330.7 107.3L341.3 117.9M330.7 117.9L341.3 107.3M338.7 96.9L349.3 107.5M338.7 107.5L349.3 96.9M346.7 86.5L357.3 97.1M346.7 97.1L357.3 86.5M354.7 76.4L365.3 87M354.7 87L365.3 76.4M362.7 66.7L373.3 77.3M362.7 77.3L373.3 66.7M370.7 58.9L381.3 69.5M370.7 69.5L381.3 58.9M378.7 50.8L389.3 61.4M378.7 61.4L389.3 50.8M386.7 43.7L397.3 54.3M386.7 54.3L397.3 43.7M394.7 38.4L405.3 49M394.7 49L405.3 38.4M402.7 34L413.3 44.6M402.7 44.6L413.3 34M410.7 29.9L421.3 40.5M410.7 40.5L421.3 29.9M418.7 26.3L429.3 36.9M418.7 36.9L429.3 26.3M433.7 20.7L444.3 31.3M433.7 31.3L444.3 20.7M448.7 19.6L459.3 30.2M448.7 30.2L459.3 19.6M463.7 19.6L474.3 30.2M463.7 30.2L474.3 19.6M478.7 20.2L489.3 30.8M478.7 30.8L489.3 20.2M493.7 24.2L504.3 34.8M493.7 34.8L504.3 24.2M501.2 26.4L511.8 37M501.2 37L511.8 26.4M508.7 29.9L519.3 40.5M508.7 40.5L519.3 29.9M516.2 33.6L526.8 44.2M516.2 44.2L526.8 33.6M523.7 37.4L534.3 48M523.7 48L534.3 37.4M531.2 41.1L541.8 51.7M531.2 51.7L541.8 41.1M538.7 44.9L549.3 55.5M538.7 55.5L549.3 44.9M546.2 49.9L556.8 60.5M546.2 60.5L556.8 49.9M553.7 56.7L564.3 67.3M553.7 67.3L564.3 56.7M561.2 64.3L571.8 74.9M561.2 74.9L571.8 64.3M568.7 72.9L579.3 83.5M568.7 83.5L579.3 72.9M576.2 81.2L586.8 91.8M576.2 91.8L586.8 81.2M583.7 89.5L594.3 100.1M583.7 100.1L594.3 89.5M591.2 99.9L601.8 110.5M591.2 110.5L601.8 99.9M598.7 109.6L609.3 120.2M598.7 120.2L609.3 109.6M606.2 121.9L616.8 132.5M606.2 132.5L616.8 121.9M613.7 133.9L624.3 144.5M613.7 144.5L624.3 133.9M621.2 145.9L631.8 156.5M621.2 156.5L631.8 145.9M628.7 155L639.3 165.6M628.7 165.6L639.3 155M636.2 143.8L646.8 154.4M636.2 154.4L646.8 143.8M643.7 134.1L654.3 144.7M643.7 144.7L654.3 134.1M651.2 125.2L661.8 135.8M651.2 135.8L661.8 125.2M658.7 115.3L669.3 125.9M658.7 125.9L669.3 115.3M666.2 105.8L676.8 116.4M666.2 116.4L676.8 105.8M673.7 106.1L684.3 116.7M673.7 116.7L684.3 106.1M681.2 109.3L691.8 119.9M681.2 119.9L691.8 109.3M688.7 112.2L699.3 122.8M688.7 122.8L699.3 112.2M696.2 116L706.8 126.6M696.2 126.6L706.8 116M703.7 120.1L714.3 130.7M703.7 130.7L714.3 120.1M711.2 124.4L721.8 135M711.2 135L721.8 124.4M718.7 128.7L729.3 139.3M718.7 139.3L729.3 128.7M726.2 133.6L736.8 144.2M726.2 144.2L736.8 133.6M733.7 138.8L744.3 149.4M733.7 149.4L744.3 138.8M741.2 143.8L751.8 154.4M741.2 154.4L751.8 143.8M744.7 146.3L755.3 156.9M744.7 156.9L755.3 146.3M752.2 150L762.8 160.6M752.2 160.6L762.8 150M755.7 151.6L766.3 162.2M755.7 162.2L766.3 151.6M763.2 155.3L773.8 165.9M763.2 165.9L773.8 155.3M766.7 157L777.3 167.6M766.7 167.6L777.3 157M774.2 159.8L784.8 170.4M774.2 170.4L784.8 159.8M777.7 160.9L788.3 171.5M777.7 171.5L788.3 160.9M785.2 163.2L795.8 173.8M785.2 173.8L795.8 163.2M788.7 164.3L799.3 174.9M788.7 174.9L799.3 164.3M796.2 166.5L806.8 177.1M796.2 177.1L806.8 166.5M799.7 167.5L810.3 178.1M799.7 178.1L810.3 167.5M807.2 169.5L817.8 180.1M807.2 180.1L817.8 169.5M810.7 170.4L821.3 181M810.7 181L821.3 170.4M818.2 172.1L828.8 182.7M818.2 182.7L828.8 172.1M821.7 172.8L832.3 183.4M821.7 183.4L832.3 172.8M829.2 174.3L839.8 184.9M829.2 184.9L839.8 174.3M832.7 175L843.3 185.6M832.7 185.6L843.3 175M836.7 175.6L847.3 186.2M836.7 186.2L847.3 175.6" fill="none" stroke="#585858" stroke-width="2"/>
</g>
<g>
<polygon points="305.4,256.4 331.1,259.6 317.8,279" fill="#000"/>
<line x1="323" y1="268" x2="360.3" y2="293.2" stroke="#000" stroke-width="3" stroke-linecap="round"/>
<polygon points="387.7,101 411.4,111.6 393.7,126.3" fill="#000"/>
<line x1="401" y1="116" x2="489.3" y2="219.8" stroke="#000" stroke-width="3" stroke-linecap="round"/>
<polygon points="544.9,81.6 561.1,64.4 568.9,85.1" fill="#000"/>
<line x1="562" y1="76" x2="644.4" y2="45.2" stroke="#000" stroke-width="3" stroke-linecap="round"/>
<polygon points="607.6,118.2 626.8,102.6 632.4,125.1" fill="#000"/>
<line x1="626" y1="114" x2="717.8" y2="91.5" stroke="#000" stroke-width="3" stroke-linecap="round"/>
</g>
<text transform="translate(71.6 15.0) scale(0.93 1)" text-anchor="end" class="ax nm">500</text>
<text transform="translate(71.6 92.8) scale(0.93 1)" text-anchor="end" class="ax nm">400</text>
<text transform="translate(71.6 170.4) scale(0.93 1)" text-anchor="end" class="ax nm">300</text>
<text transform="translate(71.6 248.8) scale(0.93 1)" text-anchor="end" class="ax nm">200</text>
<text transform="translate(71.6 327.2) scale(0.93 1)" text-anchor="end" class="ax nm">100</text>
<text transform="translate(71.6 405.1) scale(0.93 1)" text-anchor="end" class="ax nm">0</text>
<text transform="translate(84.3 431) scale(0.93 1)" text-anchor="middle" class="ax nm">0</text>
<text transform="translate(275 431) scale(0.93 1)" text-anchor="middle" class="ax nm">0.5</text>
<text transform="translate(464.8 431) scale(0.93 1)" text-anchor="middle" class="ax nm">1</text>
<text transform="translate(654.8 431) scale(0.93 1)" text-anchor="middle" class="ax nm">1.5</text>
<text transform="translate(844 431) scale(0.93 1)" text-anchor="middle" class="ax nm">2</text>
<text x="-244" y="15.3" class="ax" style="font-size:20.5px;letter-spacing:0" textLength="79.5" lengthAdjust="spacing" transform="rotate(-90)">Load (N)</text>
<text x="380.3" y="468.8" class="ax" style="font-size:23.5px;letter-spacing:0" textLength="164.8" lengthAdjust="spacing">Punch Storke (mm)</text>
<text transform="translate(652 63) scale(0.935 1)" class="lb">950℃</text>
<text transform="translate(729 107) scale(0.935 1)" class="lb">900℃</text>
<text transform="translate(491.3 243.5) scale(0.935 1)" class="lb">1000℃</text>
<text transform="translate(372.5 317.5) scale(0.935 1)" class="lb">1050℃</text>
</svg>
</body></html>
